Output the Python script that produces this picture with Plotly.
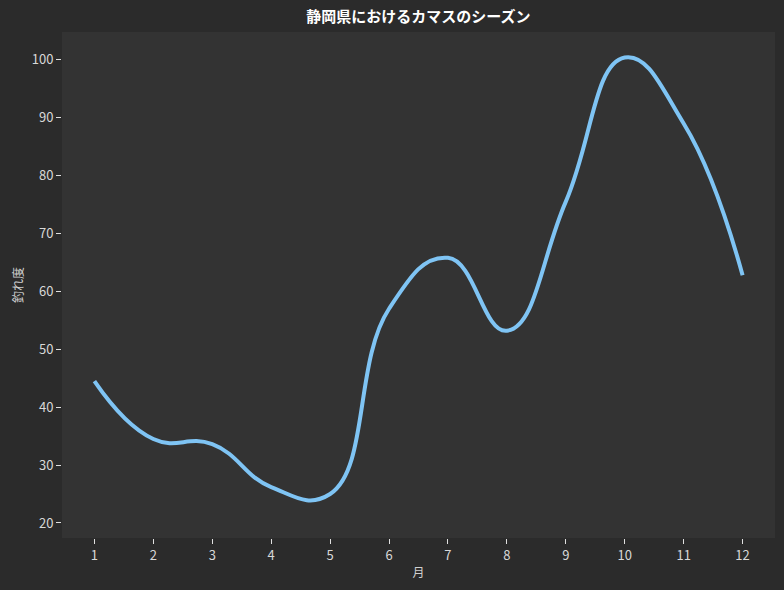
import plotly.graph_objects as go

months = [1, 2, 3, 4, 5, 6, 7, 8, 9, 10, 11, 12]
values = [44.5, 34.5, 33.6, 26.2, 25.0, 57.0, 65.8, 53.2, 75.5, 100.4, 89.0, 62.8]
month_ticks = [str(m) for m in months]

title_text = "静岡県におけるカマスのシーズン"
x_title = "月"
y_title = "釣れ度"

font_family = "Noto Sans CJK JP"

fig = go.Figure()
fig.add_trace(go.Scatter(
    x=months, y=values, mode="lines",
    line=dict(color="#7fc4f4", width=4, shape="spline", smoothing=1.3),
    showlegend=False,
))

fig.update_layout(
    width=784, height=590,
    paper_bgcolor="#2b2b2b", plot_bgcolor="#333333",
    margin=dict(l=62, r=9, t=32, b=52),
    font=dict(family=font_family, color="#d8d8d8", size=13),
    title=dict(text="<b>" + title_text + "</b>", x=0.5, xref="paper", y=0.972, yanchor="middle",
               font=dict(family=font_family, size=15, color="#ffffff")),
    xaxis=dict(range=[0.45, 12.55], tickvals=months, ticktext=month_ticks,
               showgrid=False, zeroline=False, showline=False,
               ticks="outside", ticklen=5, tickcolor="#e0e0e0", tickwidth=1,
               title=dict(text=x_title, standoff=6, font=dict(size=12, color="#d0d0d0"))),
    yaxis=dict(range=[17.4, 104.8], dtick=10, tick0=0,
               showgrid=False, zeroline=False, showline=False,
               ticks="outside", ticklen=5, tickcolor="#e0e0e0", tickwidth=1,
               title=dict(text=y_title, standoff=5, font=dict(size=12, color="#d0d0d0"))),
)

fig.write_html("out.html", config={"displayModeBar": False},
               post_script="document.body.style.margin='0px';document.body.style.overflow='hidden';")
